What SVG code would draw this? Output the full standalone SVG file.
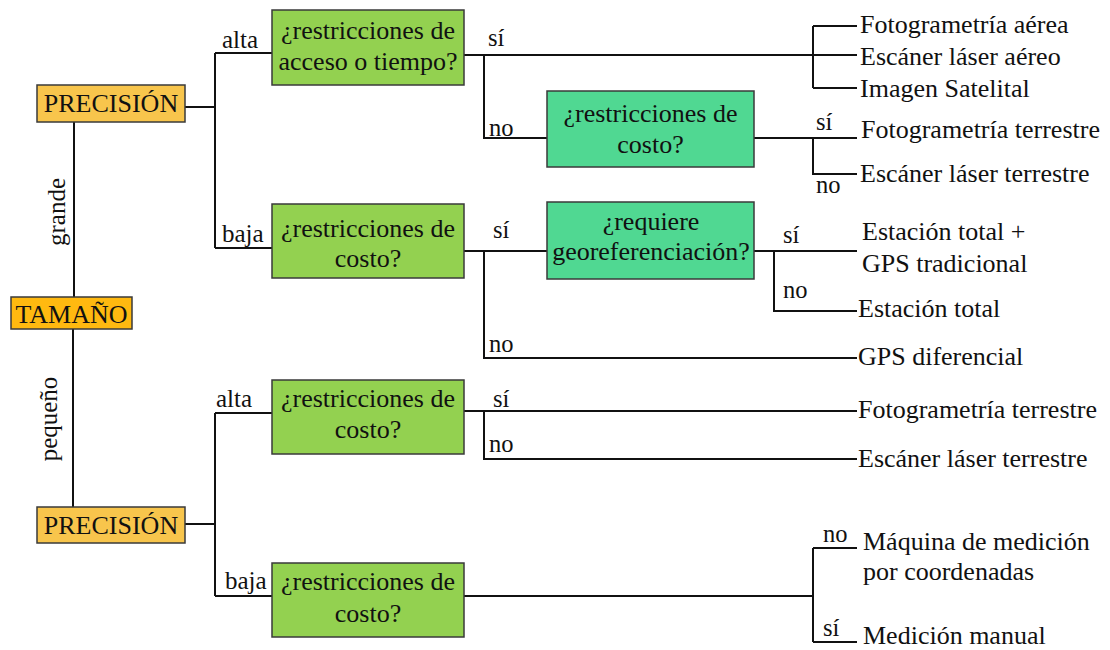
<svg xmlns="http://www.w3.org/2000/svg" width="1110" height="650" viewBox="0 0 1110 650">
<style>
text{font-family:"Liberation Serif","Times New Roman",serif;fill:#111;}
.bt{font-size:26px;text-anchor:middle;}
.ot{font-size:26px;}
.lb{font-size:25px;}
.sl{font-size:24.5px;}
.or{fill:#F8C54C;stroke:#3a3a3a;stroke-width:1.5;}
.or2{fill:#FFB910;stroke:#3a3a3a;stroke-width:1.5;}
.gr{fill:#93D150;stroke:#3a3a3a;stroke-width:1.5;}
.tl{fill:#50D892;stroke:#3a3a3a;stroke-width:1.5;}
.c{fill:none;stroke:#111;stroke-width:2;}
</style>
<rect width="1110" height="650" fill="#fff"/>
<g id="connectors">
<path class="c" d="M74,122 V297 M73,329 V507"/>
<path class="c" d="M185,107 H215 M215,53 V248 M215,53 H272 M215,248 H272"/>
<path class="c" d="M185,524 H215 M215,413 V596 M215,413 H272 M215,596 H272"/>
<path class="c" d="M464,55 H857 M813,26 V88 M813,26 H857 M813,88 H857"/>
<path class="c" d="M484,55 V138 H547"/>
<path class="c" d="M754,138 H857 M813,138 V174 H857"/>
<path class="c" d="M464,251 H547 M484,251 V358 H857"/>
<path class="c" d="M754,251 H857 M774,251 V311 H857"/>
<path class="c" d="M464,411 H857 M484,411 V459 H857"/>
<path class="c" d="M464,596 H813 M813,548 V642 M813,548 H857 M813,642 H857"/>
</g>
<g id="edge-labels">
<text class="lb" transform="translate(65,212) rotate(-90)" text-anchor="middle">grande</text>
<text class="lb" transform="translate(57,419) rotate(-90)" text-anchor="middle">pequeño</text>
<text class="lb" x="222" y="48">alta</text>
<text class="lb" x="222" y="242">baja</text>
<text class="lb" x="216" y="407">alta</text>
<text class="lb" x="225" y="589">baja</text>
<text class="sl" x="488" y="46">sí</text>
<text class="sl" x="489" y="136">no</text>
<text class="sl" x="816" y="130">sí</text>
<text class="sl" x="816" y="193">no</text>
<text class="sl" x="493" y="238">sí</text>
<text class="sl" x="489" y="352">no</text>
<text class="sl" x="783" y="243">sí</text>
<text class="sl" x="783" y="298">no</text>
<text class="sl" x="493" y="407">sí</text>
<text class="sl" x="489" y="452">no</text>
<text class="sl" x="823" y="542">no</text>
<text class="sl" x="823" y="636">sí</text>
</g>
<g id="n-tamano"><rect class="or2" x="11" y="297" width="121" height="32"/><text class="bt" x="71.5" y="323">TAMAÑO</text></g>
<g id="n-precision1"><rect class="or" x="37" y="85" width="148" height="37"/><text class="bt" x="111" y="112">PRECISIÓN</text></g>
<g id="n-precision2"><rect class="or" x="37" y="507" width="148" height="36"/><text class="bt" x="111" y="534">PRECISIÓN</text></g>
<g id="n-q1"><rect class="gr" x="272" y="10" width="192" height="75"/><text class="bt" x="368" y="39">¿restricciones de</text><text class="bt" x="368" y="70">acceso o tiempo?</text></g>
<g id="n-q2"><rect class="gr" x="272" y="204" width="192" height="74"/><text class="bt" x="368" y="237">¿restricciones de</text><text class="bt" x="368" y="267">costo?</text></g>
<g id="n-q3"><rect class="gr" x="272" y="380" width="192" height="74"/><text class="bt" x="368" y="407">¿restricciones de</text><text class="bt" x="368" y="438">costo?</text></g>
<g id="n-q4"><rect class="gr" x="272" y="563" width="192" height="74"/><text class="bt" x="368" y="590">¿restricciones de</text><text class="bt" x="368" y="622">costo?</text></g>
<g id="n-q5"><rect class="tl" x="547" y="91" width="207" height="76"/><text class="bt" x="650.5" y="122">¿restricciones de</text><text class="bt" x="650.5" y="153">costo?</text></g>
<g id="n-q6"><rect class="tl" x="547" y="202" width="207" height="77"/><text class="bt" x="651" y="230">¿requiere</text><text class="bt" x="651" y="260">georeferenciación?</text></g>
<g id="n-o1"><text class="ot" x="860" y="33">Fotogrametría aérea</text></g>
<g id="n-o2"><text class="ot" x="860" y="65">Escáner láser aéreo</text></g>
<g id="n-o3"><text class="ot" x="860" y="97">Imagen Satelital</text></g>
<g id="n-o4"><text class="ot" x="861" y="138">Fotogrametría terrestre</text></g>
<g id="n-o5"><text class="ot" x="860" y="182">Escáner láser terrestre</text></g>
<g id="n-o6"><text class="ot" x="862" y="240">Estación total +</text><text class="ot" x="862" y="272">GPS tradicional</text></g>
<g id="n-o7"><text class="ot" x="858" y="317">Estación total</text></g>
<g id="n-o8"><text class="ot" x="858" y="365">GPS diferencial</text></g>
<g id="n-o9"><text class="ot" x="858" y="418">Fotogrametría terrestre</text></g>
<g id="n-o10"><text class="ot" x="858" y="467">Escáner láser terrestre</text></g>
<g id="n-o11"><text class="ot" x="863" y="550">Máquina de medición</text><text class="ot" x="863" y="580">por coordenadas</text></g>
<g id="n-o12"><text class="ot" x="863" y="644">Medición manual</text></g>
</svg>
